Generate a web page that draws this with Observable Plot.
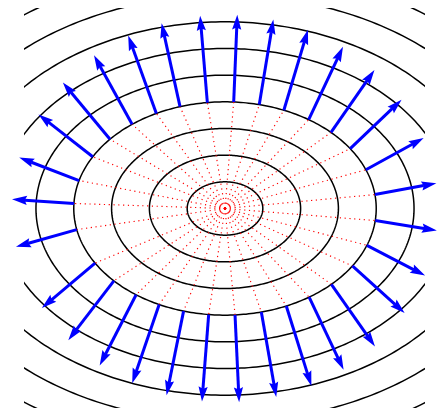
<!DOCTYPE html>
<html>
<head>
<meta charset="utf-8">
<script src="https://cdn.jsdelivr.net/npm/d3@7"></script>
<script src="https://cdn.jsdelivr.net/npm/@observablehq/plot@0.6"></script>
<style>
  html, body { margin: 0; padding: 0; background: #fff; }
  #chart svg { display: block; }
</style>
</head>
<body>
<div id="chart"></div>
<script>
// Contour levels of f(x, y) = sqrt(x²/2 + y²)  (semi-minor axis of each ellipse)
const levels = [0.4, 0.8, 1.2, 1.6, 2.0, 2.4, 2.8, 3.2, 3.6];
// The contour on which the gradient arrows sit
const arrowLevel = 1.6;
// Parametric angle (degrees) of each arrow base on that contour
const arrowAngles = [
  -168.6, -149.2, -137.3, -126.0, -115.8, -105.9, -96.2,
  -86.2, -76.1, -66.1, -56.2, -45.3, -32.6, -20.2, -6.5,
  7.5, 21.3, 34.1, 45.5, 56.4, 67.1, 76.9, 86.7,
  96.7, 107.3, 117.0, 127.9, 139.5, 151.0, 164.8, 177.3
];
// Gradient vector length factor (data units per unit of gradient of x²/2 + y²)
const gradScale = 0.41;
const xDomain = [-3, 3];
const yDomain = [-3, 3];

const rad = d => d * Math.PI / 180;

const ellipsePts = levels.flatMap(L =>
  d3.range(0, 361, 1).map(t => ({
    level: L,
    x: L * Math.SQRT2 * Math.cos(rad(t)),
    y: L * Math.sin(rad(t))
  }))
);

const arrows = arrowAngles.map(t => {
  const bx = arrowLevel * Math.SQRT2 * Math.cos(rad(t));
  const by = arrowLevel * Math.sin(rad(t));
  const gx = bx, gy = 2 * by; // gradient of x²/2 + y²
  return {
    bx, by,
    tx: bx + gradScale * gx,
    ty: by + gradScale * gy,
    rotate: 90 - Math.atan2(gy, gx) * 180 / Math.PI
  };
});

// quiver-style filled arrow head (tip at -l, pointing up before rotation)
const headShape = {
  draw(ctx, l) {
    const hw = 4.6, w = 1.5, notch = 1.5;
    ctx.moveTo(0, -l);
    ctx.lineTo(hw, 0);
    ctx.lineTo(w, -notch);
    ctx.lineTo(-w, -notch);
    ctx.lineTo(-hw, 0);
    ctx.closePath();
  }
};

const chart = Plot.plot({
  width: 444,
  height: 410,
  marginLeft: 24,
  marginRight: 19,
  marginTop: 8,
  marginBottom: 2,
  x: { domain: xDomain, axis: null },
  y: { domain: yDomain, axis: null },
  marks: [
    Plot.line(ellipsePts, {
      x: "x", y: "y", z: "level",
      stroke: "black", strokeWidth: 1.5, clip: true
    }),
    Plot.link(arrows, {
      x1: () => 0, y1: () => 0, x2: "bx", y2: "by",
      stroke: "#ff0000", strokeWidth: 1.15,
      strokeDasharray: "1.2,3.6", strokeLinecap: "butt"
    }),
    Plot.arrow(arrows, {
      x1: "bx", y1: "by", x2: "tx", y2: "ty",
      stroke: "#0000ff", strokeWidth: 3,
      headLength: 0, insetEnd: 13, strokeLinecap: "butt"
    }),
    Plot.vector(arrows, {
      x: "tx", y: "ty", rotate: "rotate",
      length: 15, anchor: "end", shape: headShape,
      fill: "#0000ff", stroke: "none"
    })
  ]
});

document.getElementById("chart").appendChild(chart);
</script>
</body>
</html>
